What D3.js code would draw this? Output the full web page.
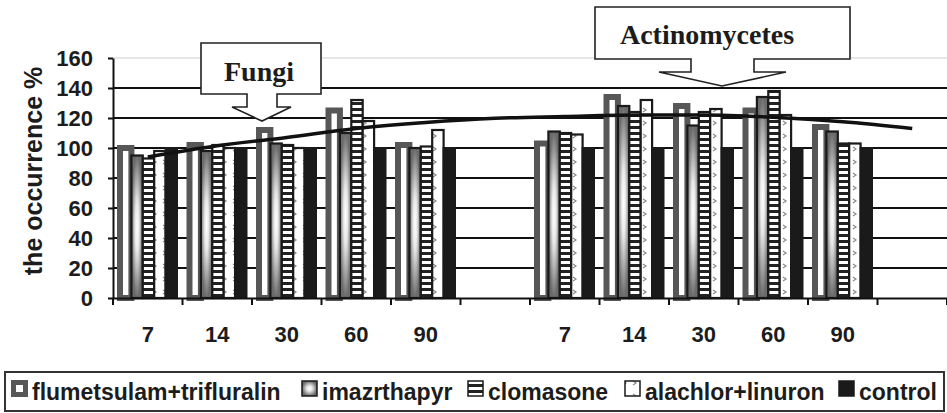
<!DOCTYPE html>
<meta charset="utf-8">
<style>
  html, body { margin: 0; padding: 0; background: #fff; }
  svg { display: block; }
  text { font-family: "Liberation Sans", Arial, sans-serif; font-weight: bold; fill: #1c1c1c; }
  .callout text { font-family: "Liberation Serif", "Times New Roman", serif; }
</style>
<div id="chart"></div>
<script src="https://cdnjs.cloudflare.com/ajax/libs/d3/7.8.5/d3.min.js"></script>
<script>
// categories: two groups (Fungi, Actinomycetes), empty slot after each group
var days = ["7", "14", "30", "60", "90", "", "7", "14", "30", "60", "90", ""];
var series = ["flumetsulam+trifluralin", "imazrthapyr", "clomasone", "alachlor+linuron", "control"];

var flumetsulam = [100, 102, 112, 125, 102, null, 103, 134, 128, 125, 114, null];
var imazrthapyr = [95, 98, 103, 110, 100, null, 111, 128, 115, 134, 111, null];
var clomasone   = [93, 102, 102, 132, 101, null, 110, 124, 124, 138, 103, null];
var alachlor    = [98, 100, 100, 118, 112, null, 109, 132, 126, 122, 103, null];
var control     = [100, 100, 100, 100, 100, null, 100, 100, 100, 100, 100, null];

// trend line, one value per category slot
var trend = [94, 101.5, 107, 113, 117, 119.8, 121, 122, 122, 120.5, 117.5, 113];

var yTicks = [0, 20, 40, 60, 80, 100, 120, 140, 160];

var values = [flumetsulam, imazrthapyr, clomasone, alachlor, control];

var W = 947, H = 413;
var svg = d3.select("#chart").append("svg").attr("width", W).attr("height", H);
var defs = svg.append("defs");

// fills
var rg = defs.append("radialGradient").attr("id", "imazFill")
  .attr("cx", 0.5).attr("cy", 0.5).attr("r", 0.5);
rg.append("stop").attr("offset", "0%").attr("stop-color", "#ffffff");
rg.append("stop").attr("offset", "35%").attr("stop-color", "#e8e8e8");
rg.append("stop").attr("offset", "100%").attr("stop-color", "#6b6b6b");

var stripes = defs.append("pattern").attr("id", "clomFill")
  .attr("patternUnits", "userSpaceOnUse").attr("width", 12).attr("height", 6);
stripes.append("rect").attr("width", 12).attr("height", 6).attr("fill", "#fff");
stripes.append("rect").attr("width", 12).attr("height", 3).attr("fill", "#222");

var chev = defs.append("pattern").attr("id", "alachFill")
  .attr("patternUnits", "userSpaceOnUse").attr("width", 10).attr("height", 13);
chev.append("rect").attr("width", 10).attr("height", 13).attr("fill", "#fff");
chev.append("path").attr("d", "M3,4 L6,6 L3,8").attr("fill", "none")
  .attr("stroke", "#8a8a8a").attr("stroke-width", 1.2);

var styles = [
  { fill: "#fff", stroke: "#575757", sw: 6 },
  { fill: "url(#imazFill)", stroke: "#1a1a1a", sw: 2.2 },
  { fill: "url(#clomFill)", stroke: "#1a1a1a", sw: 2.2 },
  { fill: "url(#alachFill)", stroke: "#1a1a1a", sw: 2.2 },
  { fill: "#1a1a1a", stroke: "#1a1a1a", sw: 2 }
];

var margin = { left: 113, right: 0, top: 58, bottom: 115 };

var x = d3.scaleBand().domain(d3.range(days.length)).range([margin.left, W]);
var xs = d3.scaleBand().domain(series).range([7, 64]);
var y = d3.scaleLinear().domain([0, 160]).range([298, margin.top]);

// gridlines
svg.append("g").selectAll("line").data(yTicks.slice(1)).enter().append("line")
  .attr("x1", margin.left).attr("x2", W)
  .attr("y1", function(d) { return y(d); }).attr("y2", function(d) { return y(d); })
  .attr("stroke", function(d) { return d === 160 ? "#cfcfcf" : "#111"; })
  .attr("stroke-width", function(d) { return d === 160 ? 1 : 2; });

// bars
series.forEach(function(s, si) {
  var st = styles[si];
  svg.append("g").selectAll("rect")
    .data(values[si].map(function(v, i) { return { i: i, v: v }; }).filter(function(d) { return d.v != null; }))
    .enter().append("rect")
    .attr("x", function(d) { return x(d.i) + xs(s); })
    .attr("width", xs.bandwidth())
    .attr("y", function(d) { return y(d.v); })
    .attr("height", function(d) { return y(0) - y(d.v); })
    .attr("fill", st.fill).attr("stroke", st.stroke).attr("stroke-width", st.sw);
});

// axes
var yAxis = svg.append("g").attr("transform", "translate(" + margin.left + ",0)")
  .call(d3.axisLeft(y).tickValues(yTicks).tickSize(5).tickSizeOuter(0).tickPadding(15));
yAxis.select(".domain").attr("stroke", "#111").attr("stroke-width", 2);
yAxis.selectAll(".tick line").attr("stroke", "#111").attr("stroke-width", 2);
yAxis.selectAll("text").style("font-size", "22px").attr("fill", "#1c1c1c");

var xAxis = svg.append("g").attr("transform", "translate(0," + y(0) + ")")
  .call(d3.axisBottom(x).tickFormat(function(i) { return days[i]; }).tickSize(0).tickPadding(28));
xAxis.select(".domain").attr("stroke", "#111").attr("stroke-width", 2);
xAxis.selectAll("text").style("font-size", "22px").attr("fill", "#1c1c1c");

// category boundary ticks
svg.append("g").selectAll("line").data(d3.range(days.length + 1)).enter().append("line")
  .attr("x1", function(i) { return margin.left + i * x.step(); })
  .attr("x2", function(i) { return margin.left + i * x.step(); })
  .attr("y1", y(0)).attr("y2", y(0) + 7)
  .attr("stroke", "#111").attr("stroke-width", 2);

svg.append("text").attr("transform", "translate(33,171) rotate(-90)")
  .attr("text-anchor", "middle").attr("dominant-baseline", "central")
  .style("font-size", "25px").text("the occurrence %");

// trend line
svg.append("path").datum(trend)
  .attr("d", d3.line().x(function(d, i) { return x(i) + x.bandwidth() / 2; })
    .y(function(d) { return y(d); }).curve(d3.curveMonotoneX))
  .attr("fill", "none").attr("stroke", "#111").attr("stroke-width", 3.5);

// callouts
function callout(label, box, stem, head, tip, tx, ty) {
  var g = svg.append("g").attr("class", "callout");
  var p = d3.path();
  p.moveTo(box[0], box[1]); p.lineTo(box[2], box[1]); p.lineTo(box[2], box[3]);
  p.lineTo(stem[1], box[3]); p.lineTo(stem[1], stem[2]); p.lineTo(head[1], stem[2]);
  p.lineTo(tip[0], tip[1]);
  p.lineTo(head[0], stem[2]); p.lineTo(stem[0], stem[2]); p.lineTo(stem[0], box[3]);
  p.lineTo(box[0], box[3]); p.closePath();
  g.append("path").attr("d", p.toString()).attr("fill", "#fff")
    .attr("stroke", "#222").attr("stroke-width", 1.6);
  g.append("text").attr("x", tx).attr("y", ty).attr("text-anchor", "middle")
    .style("font-size", "28px").text(label);
}
callout("Fungi", [201, 43, 321, 94], [247, 277, 107], [232, 291], [262, 121], 259, 81);
callout("Actinomycetes", [595, 7, 850, 59], [691, 754, 72], [659, 786], [722, 86], 707, 44);

// legend
var legendX = [11, 301, 467, 624, 838];
var lg = svg.append("g");
lg.append("rect").attr("x", 5).attr("y", 372).attr("width", 939).attr("height", 39)
  .attr("fill", "#fff").attr("stroke", "#333").attr("stroke-width", 2);
series.forEach(function(s, si) {
  var st = styles[si];
  var lx = legendX[si];
  var item = lg.append("g");
  if (si === 0) {
    item.append("rect").attr("x", lx).attr("y", 380).attr("width", 17).attr("height", 17).attr("fill", "#575757");
    item.append("rect").attr("x", lx + 5).attr("y", 385).attr("width", 7).attr("height", 7).attr("fill", "#fff");
  } else {
    item.append("rect").attr("x", lx + 1).attr("y", 381).attr("width", 15).attr("height", 15)
      .attr("fill", st.fill).attr("stroke", "#1a1a1a").attr("stroke-width", 1.5);
  }
  item.append("text").attr("x", lx + 21).attr("y", 400).style("font-size", "23px").text(s);
});
</script>
